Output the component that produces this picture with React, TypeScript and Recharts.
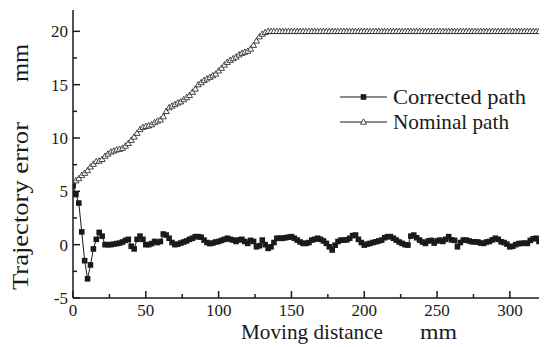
import * as React from 'react'
import { LineChart, Line, XAxis, YAxis } from 'recharts'

const distance = [
	0, 2, 4, 6, 8, 10, 12, 14, 16, 18, 20, 22, 24, 26, 28, 30, 32, 34, 36, 38,
	40, 42, 44, 46, 48, 50, 52, 54, 56, 58, 60, 62, 64, 66, 68, 70, 72, 74, 76, 78,
	80, 82, 84, 86, 88, 90, 92, 94, 96, 98, 100, 102, 104, 106, 108, 110, 112, 114, 116, 118,
	120, 122, 124, 126, 128, 130, 132, 134, 136, 138, 140, 142, 144, 146, 148, 150, 152, 154, 156, 158,
	160, 162, 164, 166, 168, 170, 172, 174, 176, 178, 180, 182, 184, 186, 188, 190, 192, 194, 196, 198,
	200, 202, 204, 206, 208, 210, 212, 214, 216, 218, 220, 222, 224, 226, 228, 230, 232, 234, 236, 238,
	240, 242, 244, 246, 248, 250, 252, 254, 256, 258, 260, 262, 264, 266, 268, 270, 272, 274, 276, 278,
	280, 282, 284, 286, 288, 290, 292, 294, 296, 298, 300, 302, 304, 306, 308, 310, 312, 314, 316, 318,
	320,
]

const corrected = [
	5.5, 4.7, 3.9, 1.2, -1.5, -3.2, -1.9, -0.4, 0.5, 1.15, 0.8, 0.0, 0.0, 0.0, 0.05, 0.1, 0.15, 0.25, 0.4, 0.5,
	-0.15, -0.4, 0.5, 0.8, 0.5, 0.0, 0.0, 0.1, 0.3, 0.2, 0.3, 1.0, 0.9, 0.6, 0.2, 0.0, 0.05, 0.15, 0.25, 0.35,
	0.5, 0.6, 0.75, 0.75, 0.7, 0.43, 0.2, 0.1, 0.15, 0.25, 0.3, 0.4, 0.5, 0.6, 0.5, 0.43, 0.3, 0.45, 0.5, 0.3,
	0.12, 0.4, 0.3, -0.2, -0.1, 0.43, 0.0, -0.35, -0.2, 0.2, 0.6, 0.6, 0.6, 0.65, 0.7, 0.75, 0.6, 0.43, 0.25, 0.12,
	0.12, 0.2, 0.43, 0.5, 0.6, 0.5, 0.35, 0.12, -0.2, -0.5, -0.05, 0.3, 0.43, 0.43, 0.45, 0.6, 0.85, 0.9, 0.5, 0.2,
	-0.04, 0.05, 0.12, 0.2, 0.27, 0.35, 0.43, 0.65, 0.75, 0.75, 0.6, 0.43, 0.25, 0.12, 0.0, -0.04, 0.8, 0.9, 0.65, 0.43,
	0.25, 0.12, 0.35, 0.4, 0.15, 0.35, 0.43, 0.3, 0.5, 0.75, 0.45, 0.4, -0.2, 0.2, 0.43, 0.43, 0.35, 0.27, 0.27, 0.25,
	0.15, 0.12, 0.25, 0.3, 0.45, 0.6, 0.5, 0.27, 0.2, 0.05, -0.2, -0.15, 0.0, 0.1, 0.12, 0.15, 0.12, 0.4, 0.55, 0.6,
	0.3,
]

const nominal = [
	5.7, 6.0, 6.2, 6.5, 6.7, 6.95, 7.3, 7.55, 7.8, 7.85, 8.0, 8.3, 8.5, 8.7, 8.8, 8.9, 8.95, 9.05, 9.25, 9.5,
	9.8, 10.1, 10.45, 10.8, 11.0, 11.1, 11.15, 11.25, 11.45, 11.6, 11.7, 12.0, 12.5, 12.85, 13.0, 13.15, 13.3, 13.4, 13.6, 13.8,
	14.0, 14.3, 14.6, 15.0, 15.2, 15.4, 15.55, 15.7, 15.85, 16.0, 16.3, 16.55, 16.85, 17.1, 17.3, 17.45, 17.6, 17.8, 17.95, 18.05,
	18.15, 18.35, 18.7, 19.1, 19.5, 19.75, 19.9, 20.0, 20.0, 20.0, 20.0, 20.0, 20.0, 20.0, 20.0, 20.0, 20.0, 20.0, 20.0, 20.0,
	20.0, 20.0, 20.0, 20.0, 20.0, 20.0, 20.0, 20.0, 20.0, 20.0, 20.0, 20.0, 20.0, 20.0, 20.0, 20.0, 20.0, 20.0, 20.0, 20.0,
	20.0, 20.0, 20.0, 20.0, 20.0, 20.0, 20.0, 20.0, 20.0, 20.0, 20.0, 20.0, 20.0, 20.0, 20.0, 20.0, 20.0, 20.0, 20.0, 20.0,
	20.0, 20.0, 20.0, 20.0, 20.0, 20.0, 20.0, 20.0, 20.0, 20.0, 20.0, 20.0, 20.0, 20.0, 20.0, 20.0, 20.0, 20.0, 20.0, 20.0,
	20.0, 20.0, 20.0, 20.0, 20.0, 20.0, 20.0, 20.0, 20.0, 20.0, 20.0, 20.0, 20.0, 20.0, 20.0, 20.0, 20.0, 20.0, 20.0, 20.0,
	20.0,
]

const xTicks = [0, 25, 50, 75, 100, 125, 150, 175, 200, 225, 250, 275, 300]
const yTicks = [-5, -2.5, 0, 2.5, 5, 7.5, 10, 12.5, 15, 17.5, 20]

const data = distance.map((d, i) => ({ distance: d, corrected: corrected[i], nominal: nominal[i] }))

const ink = '#1a1a1a'
const serif = { fontFamily: "'Times New Roman', 'Liberation Serif', serif" }

// ticks point into the plot; minor ticks are shorter and unlabeled
const makeTick = (side: 'bottom' | 'top' | 'left' | 'right', step: number) => (props: any) => {
	const { x, y, payload } = props
	const v = payload.value
	const major = Math.abs(v % step) < 1e-6
	const len = major ? 7 : 4
	let line
	if (side === 'bottom') line = <line x1={x} x2={x} y1={y} y2={y - len} stroke={ink} strokeWidth={1.5} />
	else if (side === 'top') line = <line x1={x} x2={x} y1={y} y2={y + len} stroke={ink} strokeWidth={1.5} />
	else if (side === 'left') line = <line x1={x} x2={x + len} y1={y} y2={y} stroke={ink} strokeWidth={1.5} />
	else line = <line x1={x} x2={x - len} y1={y} y2={y} stroke={ink} strokeWidth={1.5} />
	let label = null
	if (major && side === 'bottom')
		label = (
			<text x={x} y={y + 18} textAnchor="middle" fontSize={17} fill={ink} style={serif}>
				{v}
			</text>
		)
	if (major && side === 'left')
		label = (
			<text x={x - 5} y={y + 6} textAnchor="end" fontSize={17} fill={ink} style={serif}>
				{v}
			</text>
		)
	return (
		<g>
			{line}
			{label}
		</g>
	)
}

const SquareDot = (props: any) => {
	const { cx, cy, index } = props
	if (cx == null || cy == null) return <g key={index} />
	return <rect key={index} x={cx - 2.8} y={cy - 2.8} width={5.6} height={5.6} fill={ink} />
}

const TriangleDot = (props: any) => {
	const { cx, cy, index } = props
	if (cx == null || cy == null) return <g key={index} />
	return (
		<path
			key={index}
			d={`M${cx},${cy - 3.2} L${cx + 3},${cy + 2.2} L${cx - 3},${cy + 2.2} Z`}
			fill="#fff"
			stroke={ink}
			strokeWidth={0.8}
		/>
	)
}

const axisLine = { stroke: ink, strokeWidth: 1.5 }

export default function App() {
	return (
		<div style={{ position: 'absolute', left: 0, top: 0, width: 544, height: 347, background: '#fff' }}>
			<LineChart width={544} height={347} data={data} margin={{ top: 10, right: 5, left: 13, bottom: 19 }}>
				<XAxis
					dataKey="distance"
					type="number"
					domain={[0, 320]}
					ticks={xTicks}
					interval={0}
					height={30}
					tickSize={0}
					tickMargin={0}
					tickLine={false}
					axisLine={axisLine}
					tick={makeTick('bottom', 50)}
					allowDataOverflow
				/>
				<XAxis
					xAxisId="top"
					orientation="top"
					dataKey="distance"
					type="number"
					domain={[0, 320]}
					ticks={xTicks}
					interval={0}
					height={0}
					tickSize={0}
					tickMargin={0}
					tickLine={false}
					axisLine={axisLine}
					tick={makeTick('top', 50)}
				/>
				<YAxis
					type="number"
					domain={[-5, 22]}
					ticks={yTicks}
					interval={0}
					width={60}
					tickSize={0}
					tickMargin={0}
					tickLine={false}
					axisLine={axisLine}
					tick={makeTick('left', 5)}
					allowDataOverflow
				/>
				<YAxis
					yAxisId="right"
					orientation="right"
					type="number"
					domain={[-5, 22]}
					ticks={yTicks}
					interval={0}
					width={0}
					tickSize={0}
					tickMargin={0}
					tickLine={false}
					axisLine={axisLine}
					tick={makeTick('right', 5)}
				/>
				<Line
					type="linear"
					dataKey="nominal"
					stroke={ink}
					strokeWidth={1}
					dot={TriangleDot}
					activeDot={false}
					isAnimationActive={false}
				/>
				<Line
					type="linear"
					dataKey="corrected"
					stroke={ink}
					strokeWidth={1}
					dot={SquareDot}
					activeDot={false}
					isAnimationActive={false}
				/>
			</LineChart>
			<svg
				width={544}
				height={347}
				style={{ position: 'absolute', left: 0, top: 0, pointerEvents: 'none', ...serif }}
				fill={ink}
			>
				{/* legend */}
				<line x1={340} x2={387} y1={97} y2={97} stroke={ink} strokeWidth={1} />
				<rect x={360.7} y={94.2} width={5.6} height={5.6} fill={ink} />
				<text x={393} y={104} fontSize={21.5} textLength={133} lengthAdjust="spacingAndGlyphs">
					Corrected path
				</text>
				<line x1={340} x2={387} y1={122} y2={122} stroke={ink} strokeWidth={1} />
				<path d="M363.5,118.8 L366.5,124.2 L360.5,124.2 Z" fill="#fff" stroke={ink} strokeWidth={0.8} />
				<text x={393} y={129} fontSize={21.5} textLength={116} lengthAdjust="spacingAndGlyphs">
					Nominal path
				</text>
				{/* axis titles */}
				<text x={241} y={339} fontSize={21} textLength={142} lengthAdjust="spacingAndGlyphs">
					Moving distance
				</text>
				<text x={420} y={339} fontSize={21} textLength={37} lengthAdjust="spacingAndGlyphs">
					mm
				</text>
				<g transform="translate(28,0) rotate(-90)">
					<text x={-290} y={0} fontSize={24} textLength={168} lengthAdjust="spacingAndGlyphs">
						Trajectory error
					</text>
					<text x={-82} y={0} fontSize={24} textLength={38} lengthAdjust="spacingAndGlyphs">
						mm
					</text>
				</g>
			</svg>
		</div>
	)
}
